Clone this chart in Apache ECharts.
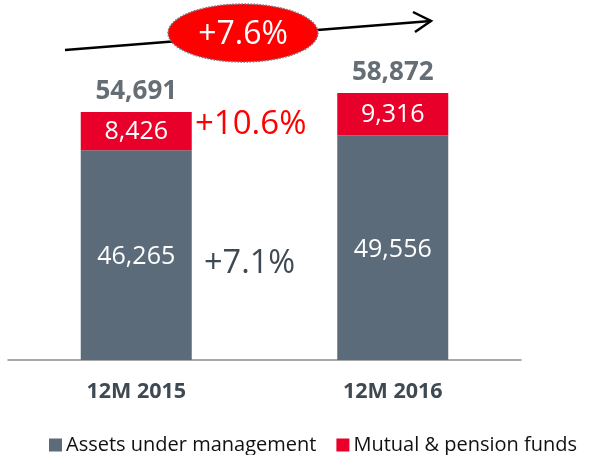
<!DOCTYPE html>
<html>
<head>
<meta charset="utf-8">
<script src="https://cdn.jsdelivr.net/npm/echarts@6/dist/echarts.min.js"></script>
<style>
html,body{margin:0;padding:0;background:#fff;}
#chart{width:591px;height:455px;}
</style>
</head>
<body>
<div id="chart"></div>
<script>
const categories = ['12M 2015', '12M 2016'];
const assetsUnderManagement = [46265, 49556];
const mutualPensionFunds = [8426, 9316];
const totals = [54691, 58872];
const seriesNames = ['Assets under management', 'Mutual & pension funds'];

const FONT = '"Open Sans", "DejaVu Sans", sans-serif';
const GRAY = '#5b6b7a';
const RED = '#e8002a';
const DARK = '#3e4952';

const fmt = v => v.toLocaleString('en-US');

const chart = echarts.init(document.getElementById('chart'), null, {renderer: 'canvas'});
chart.setOption({
  animation: false,
  backgroundColor: '#ffffff',
  textStyle: {fontFamily: FONT},
  grid: {left: 8, right: 70, top: 42.6, bottom: 95, containLabel: false},
  legend: {
    data: seriesNames,
    left: 44, top: 430,
    itemWidth: 13, itemHeight: 13, itemGap: 20,
    icon: 'rect',
    textStyle: {fontFamily: FONT, fontSize: 20, color: '#111', padding: [0, 0, 0, -1]}
  },
  xAxis: {
    type: 'category',
    data: categories,
    axisLine: {lineStyle: {color: '#8c8c8c', width: 1.5}},
    axisTick: {show: false},
    axisLabel: {fontFamily: FONT, fontSize: 21.5, fontWeight: 'bold', color: DARK, margin: 21}
  },
  yAxis: {type: 'value', min: 0, max: 70000, show: false, splitLine: {show: false}},
  series: [
    {
      name: seriesNames[0], type: 'bar', stack: 'a', data: assetsUnderManagement,
      barWidth: 111,
      itemStyle: {color: GRAY},
      label: {show: true, position: 'inside', color: '#fff', fontSize: 25, fontFamily: FONT, offset: [0, 2], formatter: p => fmt(p.value)}
    },
    {
      name: seriesNames[1], type: 'bar', stack: 'a', data: mutualPensionFunds,
      barWidth: 111,
      itemStyle: {color: RED},
      label: {show: true, position: 'inside', color: '#fff', fontSize: 25, fontFamily: FONT, offset: [0, 1], formatter: p => fmt(p.value)}
    },
    {
      name: 'Total', type: 'scatter', data: totals, symbolSize: 1,
      itemStyle: {color: 'rgba(0,0,0,0)'},
      label: {show: true, position: 'top', distance: 7, color: DARK, fontSize: 26, fontWeight: 'bold', fontFamily: FONT, formatter: p => fmt(p.value)},
      silent: true
    }
  ],
  graphic: [
    {type: 'polyline', shape: {points: [[65, 50], [431, 21]]}, style: {stroke: '#000', lineWidth: 2.5}, z: 10},
    {type: 'polyline', shape: {points: [[413, 12], [431, 21], [415, 32]]}, style: {stroke: '#000', lineWidth: 2.5, fill: null}, z: 10},
    {type: 'ellipse', shape: {cx: 243, cy: 33, rx: 75, ry: 29}, style: {fill: '#ff0000', stroke: '#6b7b8a', lineWidth: 1.5, lineDash: [1.5, 1.5]}, z: 11},
    {type: 'text', x: 243, y: 35, style: {text: '+7.6%', fill: '#fff', fontSize: 32, fontFamily: FONT, align: 'center', verticalAlign: 'middle'}, z: 12},
    {type: 'text', x: 195, y: 125, style: {text: '+10.6%', fill: '#ff0000', fontSize: 33, fontFamily: FONT, align: 'left', verticalAlign: 'middle'}, z: 12},
    {type: 'text', x: 204, y: 264, style: {text: '+7.1%', fill: DARK, fontSize: 32.5, fontFamily: FONT, align: 'left', verticalAlign: 'middle'}, z: 12}
  ]
});
</script>
</body>
</html>
